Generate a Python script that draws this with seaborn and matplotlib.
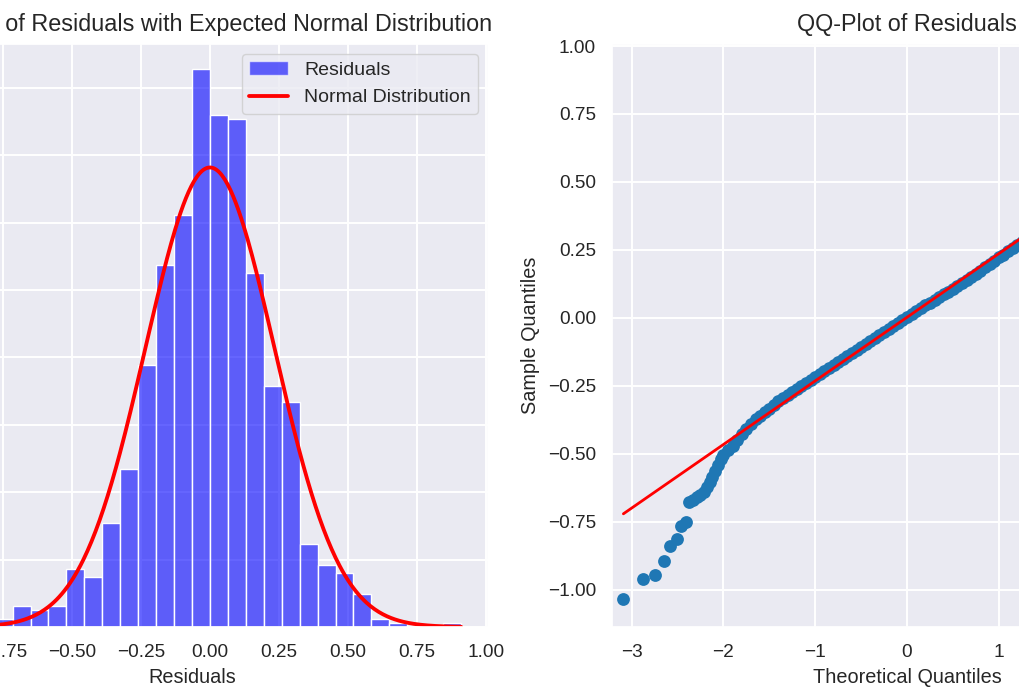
import numpy as np
import pandas as pd
import matplotlib
matplotlib.use("Agg")
import matplotlib.pyplot as plt
import seaborn as sns
from matplotlib.patches import Patch
from matplotlib.lines import Line2D
from matplotlib.ticker import MultipleLocator

# ---------------- data ----------------
hist_min = -1.04
hist_max = 0.91
n_bins = 30
hist_counts = [1, 2, 1, 2, 2, 5, 4, 5, 14, 12, 25, 38, 63, 87, 99,
               134, 123, 122, 85, 58, 54, 20, 15, 13, 8, 2, 1, 0, 0, 1]

resid_mean = 0.0
resid_std = 0.234

# QQ plot: isolated tail points (theoretical, sample)
qq_tail_theo = [-3.09, -2.88, -2.75, -2.65, -2.58, -2.51, -2.46, -2.41, -2.37]
qq_tail_samp = [-1.035, -0.961, -0.946, -0.893, -0.839, -0.813, -0.765, -0.750, -0.676]

# QQ plot: dense band (theoretical, sample)
qq_band_theo = [-2.33, -2.29, -2.25, -2.21, -2.18, -2.15, -2.12, -2.09, -2.06, -2.03,
                -2.00, -1.95, -1.90, -1.85, -1.80, -1.75, -1.70, -1.65, -1.60, -1.55,
                -1.50, -1.45, -1.40, -1.35, -1.30, -1.25, -1.20, -1.15, -1.10, -1.05,
                -1.00, -0.95, -0.90, -0.85, -0.80, -0.75, -0.70, -0.65, -0.60, -0.55,
                -0.50, -0.45, -0.40, -0.35, -0.30, -0.25, -0.20, -0.15, -0.10, -0.05,
                0.00, 0.05, 0.10, 0.15, 0.20, 0.25, 0.30, 0.35, 0.40, 0.45,
                0.50, 0.55, 0.60, 0.65, 0.70, 0.75, 0.80, 0.85, 0.90, 0.95,
                1.00, 1.05, 1.10, 1.15, 1.20, 1.25, 1.30]
qq_band_samp = [-0.670, -0.658, -0.650, -0.640, -0.622, -0.605, -0.585, -0.565, -0.543, -0.520,
                -0.506, -0.488, -0.470, -0.449, -0.429, -0.410, -0.390, -0.374, -0.360, -0.348,
                -0.335, -0.320, -0.306, -0.296, -0.285, -0.274, -0.262, -0.251, -0.240, -0.229,
                -0.217, -0.206, -0.195, -0.184, -0.173, -0.162, -0.151, -0.140, -0.129, -0.118,
                -0.107, -0.096, -0.085, -0.074, -0.063, -0.052, -0.041, -0.030, -0.019, -0.008,
                0.004, 0.015, 0.026, 0.036, 0.046, 0.056, 0.066, 0.076, 0.086, 0.096,
                0.106, 0.116, 0.127, 0.138, 0.150, 0.162, 0.174, 0.186, 0.198, 0.210,
                0.222, 0.233, 0.245, 0.256, 0.268, 0.280, 0.292]

qq_line_x = [-3.09, 3.09]
qq_line_mean = 0.002
qq_line_std = 0.234

qq_xlim = (-3.214, 3.214)
qq_ylim = (-1.1375, 1.0075)

# ---------------- style ----------------
sns.set_theme(style="darkgrid")
plt.rcParams['font.family'] = ['Liberation Sans', 'DejaVu Sans']
plt.rcParams.update({
    'xtick.labelsize': 13.7,
    'ytick.labelsize': 13.7,
    'axes.labelsize': 14.3,
    'legend.fontsize': 14.0,
    'axes.titlesize': 16.8,
    'grid.linewidth': 1.4,
    'xtick.major.size': 0,
    'ytick.major.size': 0,
    'xtick.major.pad': 12.5,
    'ytick.major.pad': 11.5,
})

fig = plt.figure(figsize=(10.2, 7), dpi=100)
W, H = 1020.0, 700.0
ax1 = fig.add_axes([-104 / W, 73 / H, 592 / W, 583 / H])
ax2 = fig.add_axes([612 / W, 73 / H, 590 / W, 583 / H])

# ---------------- left: histogram + normal curve ----------------
edges = np.linspace(hist_min, hist_max, n_bins + 1)
centers = (edges[:-1] + edges[1:]) / 2
df_hist = pd.DataFrame({'center': centers, 'count': hist_counts})
sns.histplot(data=df_hist, x='center', weights='count', bins=n_bins,
             binrange=(hist_min, hist_max), stat='density',
             color='blue', alpha=0.6, edgecolor='white', linewidth=1.0, ax=ax1)

xs = np.linspace(hist_min, hist_max, 400)
pdf = np.exp(-0.5 * ((xs - resid_mean) / resid_std) ** 2) / (resid_std * np.sqrt(2 * np.pi))
sns.lineplot(x=xs, y=pdf, color='red', linewidth=2.75, ax=ax1)

ax1.yaxis.set_major_locator(MultipleLocator(0.25))
ax1.xaxis.set_major_locator(MultipleLocator(0.25))
ax1.set_xlim(-1.1375, 1.0075)
ax1.set_ylim(0, 2.163)
ax1.set_xlabel('Residuals', labelpad=4.5)
ax1.set_ylabel('Density')
ax1.set_title('Histogram of Residuals with Expected Normal Distribution', pad=9)
handles = [Patch(facecolor='blue', alpha=0.6, edgecolor='white', label='Residuals'),
           Line2D([0], [0], color='red', linewidth=2.75, label='Normal Distribution')]
ax1.legend(handles=handles, loc='upper right')

# ---------------- right: QQ plot ----------------
qq_x = qq_tail_theo + qq_band_theo
qq_y = qq_tail_samp + qq_band_samp
sns.scatterplot(x=qq_x, y=qq_y, color='#1f77b4', s=85, linewidth=0, ax=ax2, zorder=2)
line_y = [qq_line_mean + qq_line_std * v for v in qq_line_x]
sns.lineplot(x=qq_line_x, y=line_y, color='red', linewidth=2.0, ax=ax2, zorder=3)

ax2.set_xlim(*qq_xlim)
ax2.set_ylim(*qq_ylim)
ax2.yaxis.set_major_locator(MultipleLocator(0.25))
ax2.xaxis.set_major_locator(MultipleLocator(1))
ax2.set_xlabel('Theoretical Quantiles', labelpad=4.5)
ax2.set_ylabel('Sample Quantiles', labelpad=5.5)
ax2.set_title('QQ-Plot of Residuals', pad=9)

fig.savefig('out.png', dpi=100)
